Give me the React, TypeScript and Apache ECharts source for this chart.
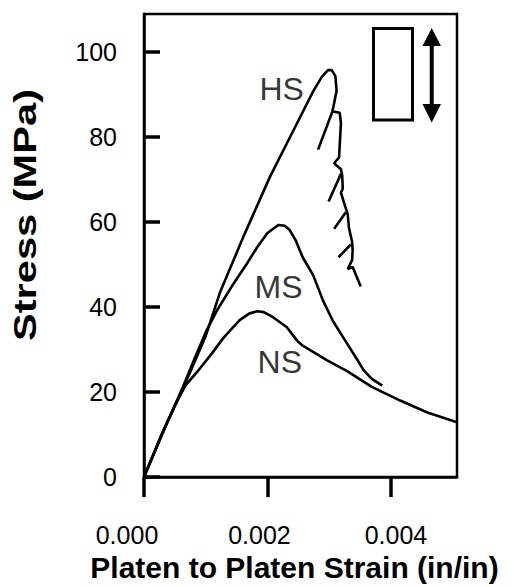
import React, { useEffect, useRef } from "react";
import * as echarts from "echarts";

// Strain (in/in) and stress (MPa)
const hsStrain = [0, 0.00033, 0.00074, 0.00100, 0.00123, 0.00163, 0.00204, 0.00236, 0.00274, 0.00288, 0.00298, 0.00304, 0.00310, 0.00312, 0.00307, 0.00305, 0.00317, 0.00319, 0.00317, 0.00316, 0.00308, 0.00319, 0.00321, 0.00322, 0.00319, 0.00325, 0.00330, 0.00332, 0.00337, 0.00338, 0.00337, 0.00330, 0.00338, 0.00351];
const hsStress = [0, 11.3, 24.45, 33.2, 43.4, 57.2, 70.6, 79.8, 90.7, 94.1, 95.7, 95.7, 94.3, 90.9, 87.2, 86.0, 85.7, 83.3, 78.0, 75.2, 73.8, 72.4, 71.0, 67.8, 66.9, 64.1, 61.8, 58.6, 55.4, 53.3, 51.0, 48.9, 49.4, 44.8];

// snap-back branches of the HS curve: [strainStart, strainEnd] / [stressStart, stressEnd]
const hsSnapStrain = [[0.00305, 0.00282], [0.00319, 0.00299], [0.00327, 0.00308], [0.00335, 0.00315]];
const hsSnapStress = [[85.9, 77.0], [71.3, 64.8], [62.3, 58.4], [54.7, 51.7]];

const msStrain = [0, 0.00033, 0.00063, 0.00082, 0.00101, 0.00119, 0.00142, 0.00165, 0.00183, 0.00200, 0.00218, 0.00228, 0.00236, 0.00246, 0.00257, 0.00274, 0.00290, 0.00306, 0.00329, 0.00345, 0.00356, 0.00369, 0.00386];
const msStress = [0, 11.3, 21.2, 27.9, 34.4, 39.4, 44.8, 49.8, 54.0, 57.4, 59.3, 59.1, 58.1, 55.6, 51.7, 47.5, 41.5, 36.7, 31.4, 27.7, 25.1, 23.1, 21.5];

const nsStrain = [0, 0.00030, 0.00051, 0.00067, 0.00087, 0.00110, 0.00129, 0.00155, 0.00171, 0.00184, 0.00194, 0.00209, 0.00231, 0.00248, 0.00257, 0.00296, 0.00329, 0.00369, 0.00415, 0.00459, 0.00507];
const nsStress = [0, 10.6, 17.1, 21.5, 24.9, 29.1, 32.8, 36.9, 38.5, 39.0, 38.8, 37.6, 35.3, 32.1, 30.9, 27.5, 24.9, 21.2, 18.0, 15.2, 12.9];

const curveNames = ["HS", "MS", "NS"];
const labelStrain = [0.00223, 0.00218, 0.0022];
const labelStress = [91.3, 44.8, 27.0];

const xTicks = [0, 0.002, 0.004];
const xTickLabels = ["0.000", "0.002", "0.004"];
const yTicks = [0, 20, 40, 60, 80, 100];

const xTitle = "Platen to Platen Strain (in/in)";
const yTitle = "Stress (MPa)";

const FONT = "'Liberation Sans', Arial, Helvetica, sans-serif";

const zip = (a: number[], b: number[]) => a.map((v, i) => [v, b[i]]);

export default function App() {
  const ref = useRef<HTMLDivElement>(null);
  useEffect(() => {
    if (!ref.current) return;
    const chart = echarts.init(ref.current, undefined, { renderer: "svg" });
    const lineStyle = { color: "#000", width: 2.6 };
    const snapSeries = hsSnapStrain.map((s, i) => ({
      type: "line",
      data: zip(s, hsSnapStress[i]),
      showSymbol: false,
      lineStyle,
      silent: true,
    }));
    chart.setOption({
      animation: false,
      grid: {
        left: 144,
        right: 57,
        top: 14,
        bottom: 101,
        show: true,
        borderColor: "#000",
        borderWidth: 2.5,
        containLabel: false,
      },
      xAxis: {
        type: "value",
        min: 0,
        max: 0.00507,
        interval: 0.002,
        splitLine: { show: false },
        axisLine: { show: true, lineStyle: { color: "#000", width: 2.5 } },
        axisTick: {
          show: true,
          inside: false,
          length: 20,
          customValues: xTicks,
          lineStyle: { color: "#000", width: 3.5 },
        },
        axisLabel: {
          customValues: xTicks,
          margin: 45,
          fontFamily: FONT,
          fontSize: 25,
          color: "#000",
          formatter: (v: number) => {
            const i = xTicks.findIndex((t) => Math.abs(t - v) < 1e-9);
            if (i < 0) return "";
            return `{t${i}|${xTickLabels[i]}}`;
          },
          rich: {
            t0: { fontFamily: FONT, fontSize: 25, color: "#000", padding: [0, 34, 0, 0] },
            t1: { fontFamily: FONT, fontSize: 25, color: "#000", padding: [0, 16, 0, 0] },
            t2: { fontFamily: FONT, fontSize: 25, color: "#000", padding: [0, 0, 0, 10] },
          },
        },
        name: xTitle,
        nameLocation: "middle",
        nameGap: 59,
        nameTextStyle: {
          fontFamily: FONT,
          fontSize: 30,
          fontWeight: "bold",
          color: "#000",
          padding: [0, 12, 0, 0],
        },
      },
      yAxis: {
        type: "value",
        min: 0,
        max: 108.9,
        interval: 20,
        splitLine: { show: false },
        axisLine: { show: true, lineStyle: { color: "#000", width: 2.5 } },
        axisTick: {
          show: true,
          inside: true,
          length: 16,
          customValues: yTicks,
          lineStyle: { color: "#000", width: 3.5 },
        },
        axisLabel: {
          customValues: yTicks,
          margin: 27,
          fontFamily: FONT,
          fontSize: 25,
          color: "#000",
        },
      },
      series: [
        { type: "line", name: "HS", data: zip(hsStrain, hsStress), showSymbol: false, lineStyle, silent: true },
        { type: "line", name: "MS", data: zip(msStrain, msStress), showSymbol: false, lineStyle, silent: true },
        { type: "line", name: "NS", data: zip(nsStrain, nsStress), showSymbol: false, lineStyle, silent: true },
        ...snapSeries,
        {
          type: "scatter",
          symbolSize: 0,
          silent: true,
          data: curveNames.map((n, i) => [labelStrain[i], labelStress[i], n]),
          label: {
            show: true,
            position: "inside",
            formatter: (p: any) => p.value[2],
            fontFamily: FONT,
            fontSize: 32,
            color: "#000",
          },
        },
      ],
      graphic: [
        {
          type: "text",
          x: 24.5,
          y: 215,
          rotation: Math.PI / 2,
          scaleX: 1.3,
          style: {
            text: yTitle,
            fontFamily: FONT,
            fontSize: 32,
            fontWeight: "bold",
            fill: "#000",
            align: "center",
            verticalAlign: "middle",
          },
        },
        {
          type: "rect",
          shape: { x: 373.5, y: 28.5, width: 39, height: 91.5 },
          style: { fill: "#fff", stroke: "#000", lineWidth: 3 },
        },
        {
          type: "line",
          shape: { x1: 431.7, y1: 44, x2: 431.7, y2: 106 },
          style: { stroke: "#000", lineWidth: 4 },
        },
        {
          type: "polygon",
          shape: { points: [[422.5, 46], [441, 46], [431.7, 28]] },
          style: { fill: "#000" },
        },
        {
          type: "polygon",
          shape: { points: [[422.5, 104], [441, 104], [431.7, 122.5]] },
          style: { fill: "#000" },
        },
      ],
    });
    return () => chart.dispose();
  }, []);
  return (
    <div
      ref={ref}
      style={{ position: "absolute", left: 0, top: 0, width: 514, height: 587, background: "#fff" }}
    />
  );
}
